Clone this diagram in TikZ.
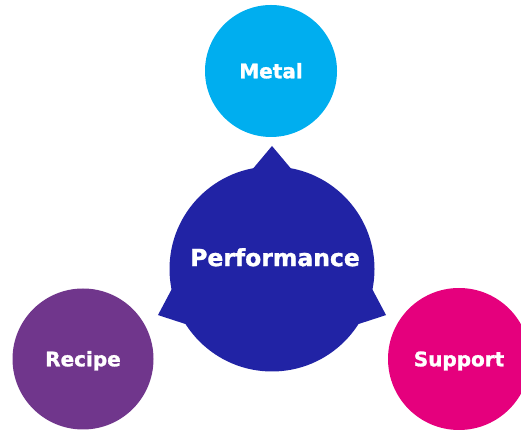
\documentclass[tikz,border=0pt]{standalone}
\usepackage{fontspec}
\setmainfont{DejaVu Sans}[BoldFeatures={FakeBold=1.3}]
\usepackage{tikz}
\usetikzlibrary{calc}
\definecolor{perfblue}{RGB}{33,35,165}
\definecolor{metalblue}{RGB}{0,174,239}
\definecolor{recipeviolet}{RGB}{112,54,140}
\definecolor{supportpink}{RGB}{229,0,125}

\begin{document}
\begin{tikzpicture}[x=1pt, y=1pt,
    ball/.style={circle, inner sep=0pt, text=white,
      font=\bfseries\fontsize{20}{24}\selectfont, text height=14.6pt, text depth=0pt},
    hubtext/.style={text=white, font=\bfseries\fontsize{23.5}{28}\selectfont,
      text height=17.1pt, text depth=0pt}]
  \clip (0,0) rectangle (521,435);
  \node[ball, fill=perfblue, minimum size=205pt] (perf) at (272,166) {};
  \foreach \a in {90,202,338}
    \fill[perfblue] ($(perf)+(\a-13:99)$) -- ($(perf)+(\a:123)$) -- ($(perf)+(\a+13:99)$) -- cycle;
  \node[hubtext] (perflabel) at ([xshift=3pt,yshift=11.5pt]perf.center) {Performance};
  \node[ball, fill=metalblue, minimum size=132pt] (metal) at (271,364) {Metal};
  \node[ball, fill=recipeviolet, minimum size=141pt] (recipe) at (83,76) {Recipe};
  \node[ball, fill=supportpink, minimum size=142pt] (support) at (459,76) {Support};
\end{tikzpicture}
\end{document}
